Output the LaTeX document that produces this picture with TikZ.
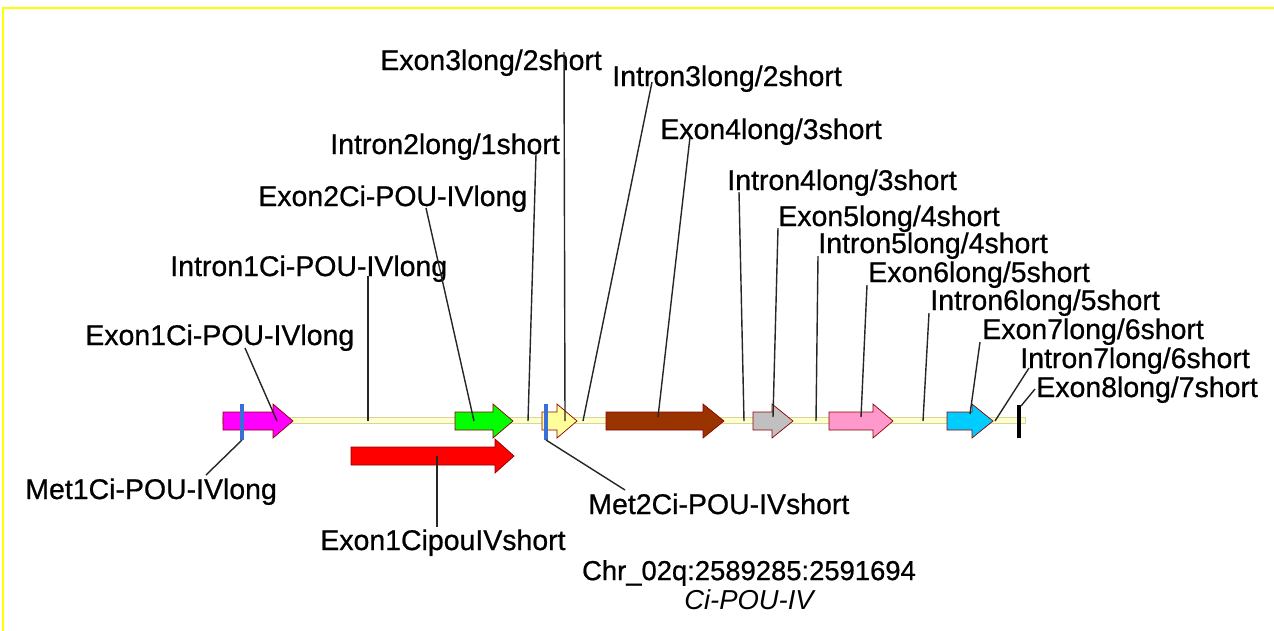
\documentclass[tikz,border=0pt]{standalone}
\usepackage{fontspec}
\setmainfont{Liberation Sans}
\newfontfamily\lblfont[FakeBold=0.7]{Liberation Sans}
\usetikzlibrary{calc}

\definecolor{frame}{HTML}{FFFF00}
\definecolor{bbfill}{HTML}{FFFFCC}
\definecolor{bbline}{HTML}{D6D69A}
\definecolor{metblue}{HTML}{3A6FD8}
\definecolor{exmag}{HTML}{FF00FF}
\definecolor{exgreen}{HTML}{00FF00}
\definecolor{exred}{HTML}{FF0000}
\definecolor{exyel}{HTML}{FFFF99}
\definecolor{exbrown}{HTML}{993300}
\definecolor{exgray}{HTML}{C0C0C0}
\definecolor{expink}{HTML}{FF99CC}
\definecolor{excyan}{HTML}{00CCFF}

% arrow of one exon: start, head start, tip, middle y, colour
\newcommand{\exonarrow}[5]{%
  \filldraw[exon,fill=#5] (#1,#4-9)--(#2,#4-9)--(#2,#4-17)--(#3,#4)--(#2,#4+17)--(#2,#4+9)--(#1,#4+9)--cycle;}

\begin{document}
\begin{tikzpicture}[
	x=0.02cm,y=-0.02cm,
	lbl/.style={anchor=base west,inner sep=0pt,font=\lblfont\fontsize{16.2}{19}\selectfont},
	leader/.style={line width=0.8pt,black!85},
	exon/.style={draw=red!55!black,line width=0.4pt},
	met/.style={draw=metblue,line width=2.4pt}
]
\useasboundingbox (0,0) rectangle (1274,630);
\draw[frame,line width=1.5pt] (3,640)--(3,8)--(1280,8);

% backbone
\filldraw[fill=bbfill,draw=bbline,line width=0.4pt] (222,417) rectangle (1025,423);

% exons
\exonarrow{223}{273}{293}{421}{exmag}
\exonarrow{455}{493}{513}{421}{exgreen}
\exonarrow{351}{495}{514}{456}{exred}
\exonarrow{542}{557}{577}{421}{exyel}
\exonarrow{606}{703}{724}{421}{exbrown}
\exonarrow{753}{772}{793}{421}{exgray}
\exonarrow{829}{873}{893}{421}{expink}
\exonarrow{947}{972}{993}{421}{excyan}
\draw[line width=1.8pt] (1019,405)coordinate(ex8a)--(1019,438)coordinate(ex8b);

% start codons
\draw[met] (242,404)coordinate(m1a)--(242,440)coordinate(m1b);
\draw[met] (546,404)coordinate(m2a)--(546,440)coordinate(m2b);

% labels above
\node[lbl] (e3)  at (380,70)  {Exon3long/2short};
\node[lbl] (i3)  at (612,86)  {Intron3long/2short};
\node[lbl] (e4)  at (660,139) {Exon4long/3short};
\node[lbl] (i2)  at (330,154) {Intron2long/1short};
\node[lbl] (i4)  at (727,190) {Intron4long/3short};
\node[lbl] (e2)  at (258,206) {Exon2Ci-POU-IVlong};
\node[lbl] (e5)  at (778,226) {Exon5long/4short};
\node[lbl] (i5)  at (818,253) {Intron5long/4short};
\node[lbl] (i1)  at (170,276) {Intron1Ci-POU-IVlong};
\node[lbl] (e6)  at (868,282) {Exon6long/5short};
\node[lbl] (i6)  at (930,310) {Intron6long/5short};
\node[lbl] (e7)  at (982,339) {Exon7long/6short};
\node[lbl] (e1)  at (85,345)  {Exon1Ci-POU-IVlong};
\node[lbl] (i7)  at (1020,368){Intron7long/6short};
\node[lbl] (e8)  at (1036,397){Exon8long/7short};
% labels below
\node[lbl] (met1) at (25,499)  {Met1Ci-POU-IVlong};
\node[lbl] (met2) at (588,514) {Met2Ci-POU-IVshort};
\node[lbl] (e1s)  at (320,550) {Exon1CipouIVshort};
\node[font=\lblfont\fontsize{15.6}{19}\selectfont,inner sep=0pt] (chr) at (749,573) {Chr\_02q:2589285:2591694};
\node[font=\fontsize{15.6}{19}\selectfont\itshape,inner sep=0pt] (gene) at (749,600) {Ci-POU-IV};

% leader ends
\coordinate (te1) at (245,348); \coordinate (fe1) at (277,421);
\coordinate (ti1) at (368,276); \coordinate (fi1) at (368,421);
\coordinate (te2) at (426,208); \coordinate (fe2) at (474,421);
\coordinate (ti2) at (536,154); \coordinate (fi2) at (528,421);
\coordinate (te3) at (564,52);  \coordinate (fe3) at (565,421);
\coordinate (ti3) at (652,82);  \coordinate (fi3) at (583,421);
\coordinate (te4) at (690,137); \coordinate (fe4) at (658,417);
\coordinate (ti4) at (739,192); \coordinate (fi4) at (744,421);
\coordinate (te5) at (778,228); \coordinate (fe5) at (773,417);
\coordinate (ti5) at (818,256); \coordinate (fi5) at (816,421);
\coordinate (te6) at (867,285); \coordinate (fe6) at (861,417);
\coordinate (ti6) at (929,313); \coordinate (fi6) at (923,421);
\coordinate (te7) at (980,342); \coordinate (fe7) at (970,414);
\coordinate (ti7) at (1029,368);\coordinate (fi7) at (995,421);
\coordinate (te8) at (1035,389);\coordinate (fe8) at (1021,406);
\coordinate (tm1) at (206,475);
\coordinate (tm2) at (625,490);
\coordinate (fs1) at (437,456); \coordinate (ts1) at (437,527);

\foreach \a/\b in {te1/fe1,ti1/fi1,te2/fe2,ti2/fi2,te3/fe3,ti3/fi3,te4/fe4,ti4/fi4,te5/fe5,ti5/fi5,te6/fe6,ti6/fi6,te7/fe7,ti7/fi7,te8/fe8,m1b/tm1,m2b/tm2,fs1/ts1}
	\draw[leader] (\a)--(\b);
\end{tikzpicture}
\end{document}
